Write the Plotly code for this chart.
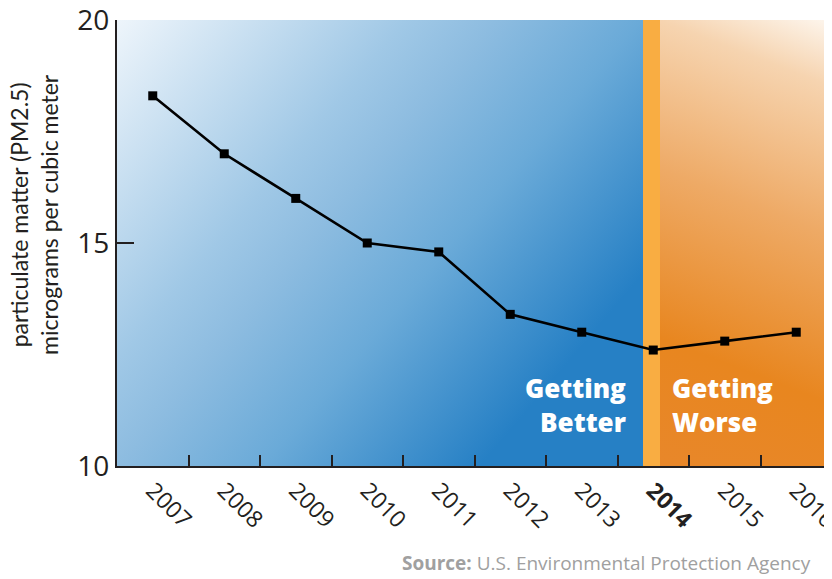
import base64
import plotly.graph_objects as go

years = ["2007", "2008", "2009", "2010", "2011", "2012", "2013", "2014", "2015", "2016"]
pm25 = [18.3, 17.0, 16.0, 15.0, 14.8, 13.4, 13.0, 12.6, 12.8, 13.0]
tick_text = ["2007", "2008", "2009", "2010", "2011", "2012", "2013", "<b>2014</b>", "2015", "2016"]
y_ticks = [10, 15, 20]

# the page body has an 8px margin, so the figure is drawn 8px in from the window's corner
OFF = 8
W, H = 832 - OFF, 579 - OFF
PL, PR, PT, PB = 117, 832, 20, 466          # plot area in window pixels
ML, MR, MT, MB = PL - OFF, 832 - PR, PT - OFF, 579 - PB
PW = PR - PL
PH = PB - PT

# paper-fraction boundaries of background bands (blue | 2014 strip | orange)
blue_end = (643 - PL) / PW
strip_end = (660 - PL) / PW


def px_x(x):
    return (x - PL) / PW


def px_y(y):
    return (PB - y) / PH


def svg_uri(w, h, x1, y1, x2, y2, stops):
    st = "".join(f"<stop offset='{o}' stop-color='{c}'/>" for o, c in stops)
    svg = (f"<svg xmlns='http://www.w3.org/2000/svg' width='{w}' height='{h}' "
           f"viewBox='0 0 {w} {h}' preserveAspectRatio='none'><defs>"
           f"<linearGradient id='g' gradientUnits='userSpaceOnUse' x1='{x1}' y1='{y1}' x2='{x2}' y2='{y2}'>"
           f"{st}</linearGradient></defs><rect width='{w}' height='{h}' fill='url(#g)'/></svg>")
    return "data:image/svg+xml;base64," + base64.b64encode(svg.encode()).decode()


bw = round(blue_end * PW)
ow = PW - round(strip_end * PW)
blue_src = svg_uri(bw, PH, 0, 0, bw, PH, [
    (0, "#eef5fb"), (0.32, "#a0c8e6"), (0.42, "#8dbce0"), (0.58, "#6aaad8"),
    (0.82, "#2680c5"), (1, "#2680c5")])
orange_src = svg_uri(ow, PH, 0, PH, ow, 0, [
    (0, "#e8872a"), (0.25, "#e8861f"), (0.58, "#eeaa66"), (0.87, "#f6d4b0"), (1, "#fdf6ee")])

fig = go.Figure()
fig.add_trace(go.Scatter(
    x=years, y=pm25, mode="lines+markers",
    line=dict(color="black", width=2.6),
    marker=dict(symbol="square", size=9, color="black"),
    showlegend=False, hoverinfo="x+y",
))

fig.add_layout_image(dict(source=blue_src, xref="paper", yref="paper", x=0, y=1,
                          sizex=blue_end, sizey=1, xanchor="left", yanchor="top",
                          sizing="stretch", layer="below"))
fig.add_layout_image(dict(source=orange_src, xref="paper", yref="paper", x=strip_end, y=1,
                          sizex=1 - strip_end, sizey=1, xanchor="left", yanchor="top",
                          sizing="stretch", layer="below"))
fig.add_shape(type="rect", xref="paper", yref="paper", x0=blue_end, x1=strip_end, y0=0, y1=1,
              fillcolor="#f9ad42", line=dict(width=0), layer="below")

label_font = dict(family="Open Sans, sans-serif", size=26, color="white", weight=800)
fig.add_annotation(x=px_x(628), y=px_y(405), xref="paper", yref="paper",
                   text="Getting<br>Better", showarrow=False, xanchor="right",
                   yanchor="middle", align="right", font=label_font)
fig.add_annotation(x=px_x(670), y=px_y(405), xref="paper", yref="paper",
                   text="Getting<br>Worse", showarrow=False, xanchor="left",
                   yanchor="middle", align="left", font=label_font)

fig.add_annotation(x=px_x(34), y=px_y(215), xref="paper", yref="paper",
                   text="particulate matter (PM2.5)<br>micrograms per cubic meter",
                   textangle=-90, showarrow=False, xanchor="center", yanchor="middle",
                   borderpad=0,
                   font=dict(family="Lato, sans-serif", size=23, color="#231f20"))

fig.add_annotation(x=px_x(813), y=px_y(563), xref="paper", yref="paper",
                   text="<b>Source:</b> U.S. Environmental Protection Agency", showarrow=False,
                   xanchor="right", yanchor="middle",
                   font=dict(family="Open Sans, sans-serif", size=19, color="#a0a0a0"))

fig.update_xaxes(
    type="category", tickmode="array", tickvals=years, ticktext=tick_text,
    tickson="boundaries", ticks="inside", ticklen=11, tickwidth=2, tickcolor="#231f20",
    tickangle=45, tickfont=dict(family="Open Sans, sans-serif", size=23, color="#231f20"),
    showline=True, linecolor="#231f20", linewidth=2, showgrid=False, zeroline=False,
    range=[-0.5, 9.5], fixedrange=True, automargin=False,
)
fig.update_yaxes(
    range=[10, 20], tickvals=y_ticks, ticks="inside", ticklen=17, tickwidth=2,
    tickcolor="#231f20", tickfont=dict(family="Open Sans, sans-serif", size=28, color="#231f20"),
    ticklabeloverflow="allow",
    showline=True, linecolor="#231f20", linewidth=2, showgrid=False, zeroline=False,
    fixedrange=True, automargin=False,
)
fig.update_layout(
    width=W, height=H, margin=dict(l=ML, r=MR, t=MT, b=MB, autoexpand=False),
    paper_bgcolor="white", plot_bgcolor="rgba(0,0,0,0)",
)
fig.write_html("out.html")
